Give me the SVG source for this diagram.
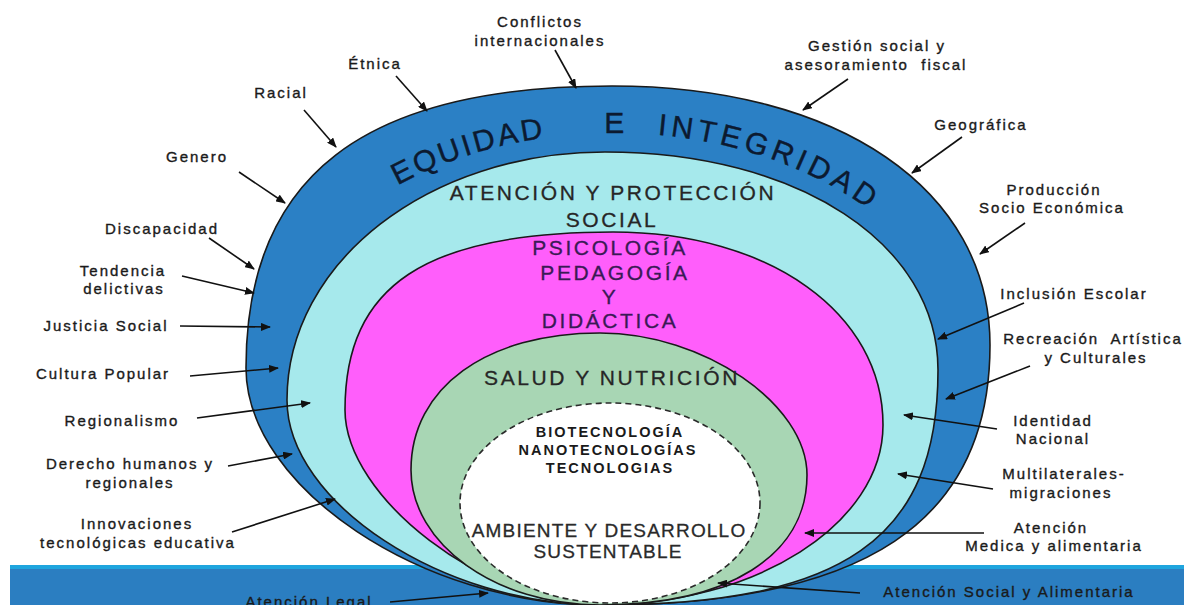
<svg xmlns="http://www.w3.org/2000/svg" width="1184" height="605" viewBox="0 0 1184 605">
<defs>
<marker id="ah" markerWidth="10" markerHeight="8" refX="9" refY="4" orient="auto" markerUnits="userSpaceOnUse"><path d="M0,0 L10,4 L0,8 z" fill="#111"/></marker>
<path id="arc" d="M250,400 A364,267 0 0 1 978,400" fill="none"/>
</defs>
<style>
.lbl{font-family:"Liberation Sans",Arial,sans-serif;font-size:15px;letter-spacing:2px;fill:#1a1a1a;stroke:#1a1a1a;stroke-width:0.35px;text-anchor:middle;white-space:pre}
.ring{stroke:#1a1a1a;stroke-width:1.6}
.ar{stroke:#111;stroke-width:1.6;fill:none;marker-end:url(#ah)}
.big{font-family:"Liberation Sans",Arial,sans-serif;font-size:21px;letter-spacing:2.6px;fill:#262626;stroke:#262626;stroke-width:0.3px;text-anchor:middle}
.mag{fill:#3a1a55;stroke:#3a1a55}
.tech{font-family:"Liberation Sans",Arial,sans-serif;font-size:14.5px;font-weight:bold;letter-spacing:2px;fill:#1a1a1a;text-anchor:middle}
.amb{font-family:"Liberation Sans",Arial,sans-serif;font-size:19px;letter-spacing:1.2px;fill:#2a2a2a;stroke:#2a2a2a;stroke-width:0.3px;text-anchor:middle}
.title{font-family:"Liberation Sans",Arial,sans-serif;font-size:30px;fill:#0c1a30;stroke:#0c1a30;stroke-width:0.4px;text-anchor:middle}
</style>
<rect width="1184" height="605" fill="#ffffff"/>
<g id="bar">
<rect x="10" y="565" width="1174" height="40" fill="#2B7EC1"/>
<rect x="10" y="565" width="1174" height="4" fill="#1FA5DE"/>
</g>
<g id="equidad">
<path class="ring" fill="#2B80C5" d="M246,368 C246,176.2 363.1,86 612,86 C838.8,86 990,189.6 990,345 C990,521.8 865.2,605 600,605 C423,605 246,487.5 246,368 Z"/>
<text class="title"><textPath href="#arc" startOffset="352" letter-spacing="2.9">EQUIDAD</textPath></text>
<text class="title"><textPath href="#arc" startOffset="498.5">E</textPath></text>
<text class="title"><textPath href="#arc" startOffset="657" letter-spacing="4.5">INTEGRIDAD</textPath></text>
</g>
<g id="atencion">
<path class="ring" fill="#A6E9EC" d="M287,400 C287,262.4 428.5,152 605,152 C798.1,152 938,243.6 938,370 C938,539.2 843.4,605 600,605 C443.5,605 287,502.5 287,400 Z"/>
<text class="big" x="613" y="200">ATENCIÓN Y PROTECCIÓN</text>
<text class="big" x="612" y="227">SOCIAL</text>
</g>
<g id="psicologia">
<path class="ring" fill="#FF5EFB" d="M345,410 C345,285.4 425.4,232 613,232 C769.6,232 883,313.1 883,425 C883,524 755.7,605 600,605 C485.3,605 345,497.75 345,410 Z"/>
<text class="big mag" x="610" y="255">PSICOLOGÍA</text>
<text class="big mag" x="615" y="280">PEDAGOGÍA</text>
<text class="big mag" x="610" y="304">Y</text>
<text class="big mag" x="610" y="328">DIDÁCTICA</text>
</g>
<g id="salud">
<path class="ring" fill="#A8D6B4" d="M411,470 C411,387.8 486.6,333 600,333 C703.5,333 807,404 807,475 C807,555.6 728.3,605 600,605 C496,605 411,544.25 411,470 Z"/>
<text class="big" x="612" y="385" letter-spacing="2.9">SALUD Y NUTRICIÓN</text>
</g>
<g id="ambiente">
<ellipse cx="610" cy="503" rx="150" ry="100" fill="#ffffff" stroke="#2a2a2a" stroke-width="1.6" stroke-dasharray="6 4"/>
<text class="tech" x="610" y="437">BIOTECNOLOGÍA</text>
<text class="tech" x="608" y="455">NANOTECNOLOGÍAS</text>
<text class="tech" x="610" y="473">TECNOLOGIAS</text>
<text class="amb" x="609" y="537">AMBIENTE Y DESARROLLO</text>
<text class="amb" x="608" y="558">SUSTENTABLE</text>
</g>
<g id="connectors">
<line class="ar" x1="555" y1="50" x2="576" y2="88"/>
<line class="ar" x1="396" y1="76" x2="427" y2="111"/>
<line class="ar" x1="304" y1="110" x2="336" y2="147"/>
<line class="ar" x1="239" y1="172" x2="285" y2="203"/>
<line class="ar" x1="209" y1="238" x2="254" y2="269"/>
<line class="ar" x1="182" y1="276" x2="254" y2="293"/>
<line class="ar" x1="180" y1="326" x2="270" y2="327"/>
<line class="ar" x1="190" y1="376" x2="278" y2="368"/>
<line class="ar" x1="197" y1="418" x2="310" y2="403"/>
<line class="ar" x1="228" y1="466" x2="292" y2="454"/>
<line class="ar" x1="232" y1="532" x2="335" y2="499"/>
<line class="ar" x1="390" y1="602" x2="488" y2="593"/>
<line class="ar" x1="848" y1="79" x2="803" y2="110"/>
<line class="ar" x1="962" y1="137" x2="912" y2="173"/>
<line class="ar" x1="1025" y1="223" x2="980" y2="254"/>
<line class="ar" x1="1024" y1="303" x2="938" y2="339"/>
<line class="ar" x1="1030" y1="366" x2="946" y2="399"/>
<line class="ar" x1="997" y1="429" x2="904" y2="415"/>
<line class="ar" x1="993" y1="489" x2="898" y2="474"/>
<line class="ar" x1="984" y1="533" x2="805" y2="533"/>
<line class="ar" x1="860" y1="593" x2="718" y2="583"/>
</g>
<g id="labels">
<g id="l-conflictos"><text class="lbl" x="540" y="27">Conflictos</text><text class="lbl" x="540" y="46">internacionales</text></g>
<g id="l-etnica"><text class="lbl" x="375" y="69">Étnica</text></g>
<g id="l-racial"><text class="lbl" x="281" y="98">Racial</text></g>
<g id="l-genero"><text class="lbl" x="197" y="162">Genero</text></g>
<g id="l-discapacidad"><text class="lbl" x="162" y="234">Discapacidad</text></g>
<g id="l-tendencia"><text class="lbl" x="123" y="276">Tendencia</text><text class="lbl" x="124" y="294">delictivas</text></g>
<g id="l-justicia"><text class="lbl" x="106" y="331">Justicia Social</text></g>
<g id="l-cultura"><text class="lbl" x="103" y="379">Cultura Popular</text></g>
<g id="l-regionalismo"><text class="lbl" x="122" y="426">Regionalismo</text></g>
<g id="l-derecho"><text class="lbl" x="130" y="469">Derecho humanos y</text><text class="lbl" x="130" y="488">regionales</text></g>
<g id="l-innovaciones"><text class="lbl" x="137" y="529">Innovaciones</text><text class="lbl" x="138" y="548">tecnológicas educativa</text></g>
<g id="l-legal"><text class="lbl" x="309" y="607">Atención Legal</text></g>
<g id="l-gestion"><text class="lbl" x="877" y="51">Gestión social y</text><text class="lbl" x="876" y="70">asesoramiento  fiscal</text></g>
<g id="l-geografica"><text class="lbl" x="981" y="130">Geográfica</text></g>
<g id="l-produccion"><text class="lbl" x="1054" y="195">Producción</text><text class="lbl" x="1052" y="213">Socio Económica</text></g>
<g id="l-inclusion"><text class="lbl" x="1074" y="299">Inclusión Escolar</text></g>
<g id="l-recreacion"><text class="lbl" x="1093" y="344">Recreación  Artística</text><text class="lbl" x="1096" y="363">y Culturales</text></g>
<g id="l-identidad"><text class="lbl" x="1053" y="426">Identidad</text><text class="lbl" x="1053" y="444">Nacional</text></g>
<g id="l-multilaterales"><text class="lbl" x="1064" y="479">Multilaterales-</text><text class="lbl" x="1061" y="498">migraciones</text></g>
<g id="l-medica"><text class="lbl" x="1051" y="533">Atención</text><text class="lbl" x="1054" y="551">Medica y alimentaria</text></g>
<g id="l-social"><text class="lbl" x="1009" y="597">Atención Social y Alimentaria</text></g>
</g>
</svg>
